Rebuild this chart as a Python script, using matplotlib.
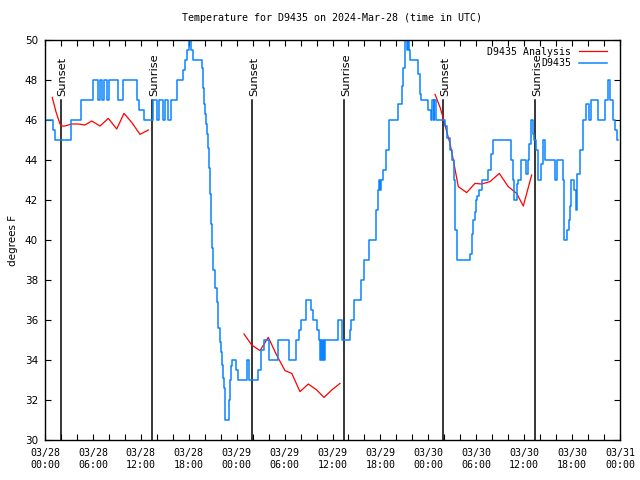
import matplotlib
matplotlib.use("Agg")
import matplotlib.pyplot as plt
import numpy as np

# hours since 2024-03-28 00:00 UTC, observed temperature (deg F), drawn as steps
obs_hour = [0.0, 1.05, 1.3, 3.2, 4.5, 6.0, 6.6, 6.9, 7.15, 7.4, 7.8, 8.05, 9.1, 9.73,
            11.5, 11.8, 12.4, 13.5, 14.0, 14.3, 14.8, 15.0, 15.4, 15.8, 16.5, 17.3,
            17.5, 17.8, 18.0, 18.3, 18.5, 19.66, 19.8, 19.9, 20.07, 20.2, 20.32, 20.45,
            20.57, 20.7, 20.82, 20.95, 21.07, 21.29, 21.5, 21.7, 21.9, 22.04, 22.2,
            22.33, 22.45, 22.6, 23.08, 23.16, 23.3, 23.45, 23.9, 24.15, 24.42, 25.33,
            25.5, 26.7, 27.04, 27.4, 28.05, 29.2, 30.55, 31.43, 31.8, 32.0, 32.7, 33.3,
            33.52, 34.06, 34.3, 34.43, 34.56, 34.68, 34.8, 34.94, 35.06, 36.63, 36.75,
            37.25, 38.19, 38.3, 38.7, 39.63, 40.0, 40.57, 41.39, 41.64, 41.82, 41.95,
            42.07, 42.32, 42.76, 43.11, 44.14, 44.64, 44.89, 45.08, 45.33, 45.45, 45.58,
            45.7, 46.71, 46.9, 47.08, 47.9, 48.33, 48.52, 48.65, 48.77, 48.9, 50.1,
            50.38, 50.71, 50.92, 51.21, 51.3, 51.38, 51.53, 53.21, 53.42, 53.62,
            53.84, 53.96, 54.13, 54.38, 54.68, 55.51, 55.85, 56.14, 58.29, 58.56, 58.78,
            59.06, 59.27, 59.6, 60.23, 60.42, 60.64, 60.82, 61.07, 61.17, 61.54, 61.67,
            61.79, 62.11, 62.3, 62.6, 63.8, 64.15, 64.83, 64.93, 65.03, 65.37, 65.56,
            65.74, 65.87, 66.28, 66.43, 66.65, 66.93, 67.33, 67.74, 68.17, 68.37, 69.28,
            70.12, 70.54, 70.8, 71.12, 71.43, 71.63, 71.75]
obs_temp = [46, 45.5, 45, 46, 47, 48, 47, 48, 47, 48, 47, 48, 47, 48,
            47, 46.5, 46, 47, 46, 47, 46, 47, 46, 47, 48, 48.5,
            49, 49.5, 50, 49.5, 49, 48.6, 47.6, 46.8, 46.3, 45.8, 45.3, 44.6,
            43.6, 42.3, 40.8, 39.6, 38.5, 37.6, 36.9, 35.6, 34.9, 34.4, 33.75,
            33.1, 32.6, 31, 32, 33, 33.7, 34, 33.5, 33, 33, 34,
            33, 33.5, 34.5, 35, 34, 35, 34, 35, 35.5, 36, 37, 36.5,
            36, 35.5, 35, 34, 35, 34, 35, 34, 35, 35.5, 36,
            35, 35.5, 36, 37, 38, 39, 40, 41.5, 42.5, 43, 42.5,
            43, 43.5, 44.5, 46, 46.8, 47.7, 48.6, 50, 49.5, 50, 49.5,
            49, 48.3, 47.3, 47, 46.5, 46, 47, 46, 47, 46, 45.7,
            45.1, 44.5, 44, 43, 41.8, 40.5, 39, 39.3, 40.3, 41,
            41.4, 42, 42.2, 42.5, 43, 43.5, 44.3, 45, 44, 43, 42,
            42.8, 43, 44, 43.3, 44, 44.8, 46, 45.3, 45, 44.5, 43.5,
            43, 43.8, 45, 44, 43, 44, 43, 41, 40, 40.5, 41,
            41.7, 43, 42.5, 41.5, 43.3, 44.5, 46, 46.8, 46, 47, 46,
            47, 48, 47, 46, 45.5, 45, 45]

# analysis series, three separate runs
ana1_hour = [0.91, 1.38, 1.88, 2.09, 2.5, 3.34, 4.17, 5.01, 5.85, 6.89, 7.93, 8.98, 9.89, 10.86, 11.9, 12.94]
ana1_temp = [47.13, 46.4, 45.8, 45.7, 45.7, 45.8, 45.8, 45.75, 45.95, 45.7, 46.08, 45.55, 46.33, 45.88, 45.28, 45.5]
ana2_hour = [24.92, 25.88, 26.92, 27.96, 29.0, 30.05, 30.9, 31.93, 32.97, 34.02, 34.94, 35.9, 36.94]
ana2_temp = [35.3, 34.75, 34.47, 35.13, 34.25, 33.47, 33.33, 32.42, 32.8, 32.5, 32.13, 32.5, 32.83]
ana3_hour = [48.84, 49.5, 49.87, 50.3, 50.71, 51.13, 51.5, 51.75, 52.8, 53.84, 54.68, 55.72, 56.89, 58.0, 59.06, 59.89, 60.94]
ana3_temp = [47.28, 46.6, 46.08, 45.42, 44.83, 44.0, 43.2, 42.67, 42.37, 42.83, 42.8, 42.92, 43.33, 42.67, 42.33, 41.7, 43.25]

sun_hour = [1.97, 13.44, 25.96, 37.48, 49.88, 61.4]
sun_label = ["Sunset", "Sunrise", "Sunset", "Sunrise", "Sunset", "Sunrise"]

tick_hour = list(range(0, 73, 6))
tick_label = ["03/28\n00:00", "03/28\n06:00", "03/28\n12:00", "03/28\n18:00",
              "03/29\n00:00", "03/29\n06:00", "03/29\n12:00", "03/29\n18:00",
              "03/30\n00:00", "03/30\n06:00", "03/30\n12:00", "03/30\n18:00",
              "03/31\n00:00"]

mono = "DejaVu Sans Mono"
fs = 7.2

fig = plt.figure(figsize=(6.4, 4.8), dpi=100)
ax = fig.add_axes([45/640, 40/480, 575/640, 400/480])

for h, s in zip(sun_hour, sun_label):
    ax.plot([h, h], [30, 47], color="black", lw=1.1)
    ax.text(h + 0.18, 47.2, s, rotation=90, ha="center", va="bottom",
            fontsize=8.2, family="DejaVu Sans")

ax.plot(ana1_hour, ana1_temp, color="red", lw=0.9, label="D9435 Analysis")
ax.plot(ana2_hour, ana2_temp, color="red", lw=0.9)
ax.plot(ana3_hour, ana3_temp, color="red", lw=0.9)
ax.plot(obs_hour, obs_temp, color="#0a84ff", lw=1.1, drawstyle="steps-post", label="D9435")

ax.set_xlim(0, 72)
ax.set_ylim(30, 50)
ax.set_xticks(tick_hour)
ax.set_xticklabels(tick_label, fontsize=fs, family=mono)
ax.set_xticks(range(0, 73, 2), minor=True)
ax.set_yticks(range(30, 51, 2))
ax.set_yticklabels([str(v) for v in range(30, 51, 2)], fontsize=7.5, family="DejaVu Sans")
ax.tick_params(which="both", direction="in", top=True, right=True, length=4, width=0.8)
ax.tick_params(axis="x", pad=6)
ax.tick_params(axis="y", pad=5)
for sp in ax.spines.values():
    sp.set_linewidth(1.0)

ax.set_ylabel("degrees F", fontsize=7.5, family="DejaVu Sans", labelpad=5)
ax.set_title("Temperature for D9435 on 2024-Mar-28 (time in UTC)", fontsize=fs, family=mono, pad=14)

leg = ax.legend(loc="upper right", bbox_to_anchor=(1 - 8/575, 1 - 2/400), frameon=False,
                markerfirst=False, prop={"family": mono, "size": 7.1}, handlelength=2.85,
                handletextpad=0.8, borderaxespad=0.1, labelspacing=0.12)

plt.savefig("out.png", dpi=100)
